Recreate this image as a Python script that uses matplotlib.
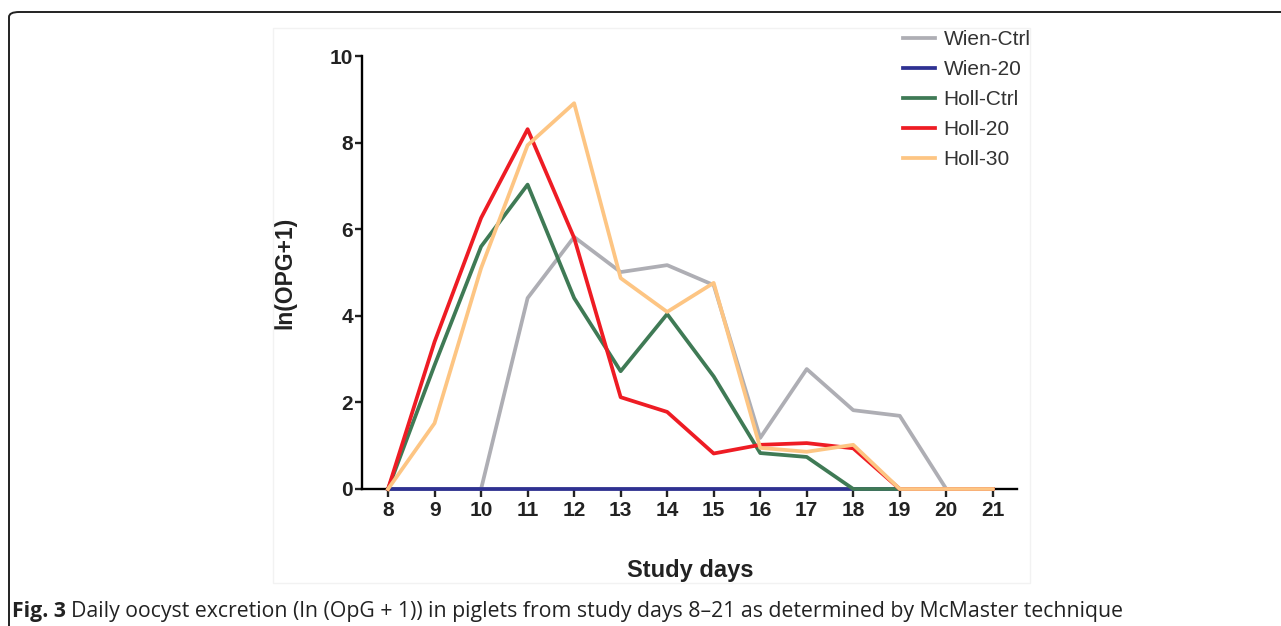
import matplotlib.pyplot as plt
from matplotlib.patches import FancyBboxPatch, Rectangle

# study days and daily ln(OPG+1) per group
days = [8, 9, 10, 11, 12, 13, 14, 15, 16, 17, 18, 19, 20, 21]
wien_ctrl = [0, 0, 0, 4.41, 5.82, 5.01, 5.17, 4.71, 1.18, 2.77, 1.82, 1.69, 0, 0]
wien_20 = [0, 0, 0, 0, 0, 0, 0, 0, 0, 0, 0, 0, 0, 0]
holl_ctrl = [0, 2.86, 5.6, 7.03, 4.41, 2.72, 4.04, 2.6, 0.83, 0.74, 0, 0, 0, 0]
holl_20 = [0, 3.4, 6.26, 8.31, 5.8, 2.12, 1.78, 0.82, 1.02, 1.06, 0.94, 0, 0, 0]
holl_30 = [0, 1.52, 5.1, 7.94, 8.91, 4.87, 4.09, 4.76, 0.95, 0.86, 1.02, 0, 0, 0]

series = [
    ("Wien-Ctrl", wien_ctrl, "#aeaeb4"),
    ("Wien-20", wien_20, "#2e3192"),
    ("Holl-Ctrl", holl_ctrl, "#3f7a55"),
    ("Holl-20", holl_20, "#ee1c24"),
    ("Holl-30", holl_30, "#fdc583"),
]

W, H = 1281, 626
fig = plt.figure(figsize=(W / 100, H / 100), dpi=100)
plt.rcParams['font.family'] = ['Liberation Sans', 'DejaVu Sans']

# outer rounded frame and faint chart box
fig.patches.append(FancyBboxPatch((9 / W, -20 / H), (W + 20) / W, (H - 12 + 20) / H,
                                  boxstyle="round,pad=0,rounding_size=0.008",
                                  transform=fig.transFigure, fill=False,
                                  edgecolor="#222222", linewidth=1.4))
fig.patches.append(Rectangle((273 / W, (H - 583) / H), (1030 - 273) / W, (583 - 28) / H,
                             transform=fig.transFigure, fill=False,
                             edgecolor="#f2f2f2", linewidth=1))

ax = fig.add_axes([362 / W, (H - 489) / H, (1017 - 362) / W, (489 - 56) / H])
for name, vals, col in series:
    ax.plot(days, vals, color=col, linewidth=2.7, label=name, clip_on=False, zorder=3)

ax.set_xlim(7.44, 21.52)
ax.set_ylim(0, 10)
ax.set_xticks(days)
ax.set_yticks([0, 2, 4, 6, 8, 10])
for s in ["top", "right"]:
    ax.spines[s].set_visible(False)
for s in ["left", "bottom"]:
    ax.spines[s].set_linewidth(1.7)
ax.tick_params(width=1.7, labelsize=15, colors="#222222")
ax.tick_params(axis="y", length=5, pad=1.5)
ax.tick_params(axis="x", length=6, pad=3)
for lab in ax.get_xticklabels() + ax.get_yticklabels():
    lab.set_fontweight("bold")

ax.set_ylabel("ln(OPG+1)", fontsize=16.5, fontweight="bold", labelpad=24, color="#222222")
fig.text(690 / W, 1 - 570 / H, "Study days", fontsize=17, fontweight="bold",
         ha="center", va="center", color="#222222")

fig.legend(loc="upper left", bbox_to_anchor=(903 / W, 1 - 30 / H), frameon=False,
           fontsize=15, handlelength=1.55, handletextpad=0.4, labelspacing=0.53,
           borderpad=0, borderaxespad=0, labelcolor="#333333")

# caption: bold "Fig. 3" followed by regular text, scaled to span the reference width
cap_font = ['Open Sans', 'DejaVu Sans']
fs = 13
t1 = fig.text(12 / W, 1 - 611 / H, "Fig. 3", fontsize=fs, fontweight="bold",
              ha="left", va="center", family=cap_font, color="#222222")
t2 = fig.text(0, 1 - 611 / H, "Daily oocyst excretion (ln (OpG + 1)) in piglets from study days 8–21 as determined by McMaster technique",
              fontsize=fs, ha="left", va="center", family=cap_font, color="#222222")
r = fig.canvas.get_renderer()
w1 = t1.get_window_extent(r).width
w2 = t2.get_window_extent(r).width
scale = (1117 - 12) / (w1 + w2 + 5)
fs = fs * scale
t1.set_fontsize(fs)
t2.set_fontsize(fs)
w1 = t1.get_window_extent(r).width
t2.set_x((12 + w1 + 5) / W)

fig.savefig("out.png", dpi=100)
